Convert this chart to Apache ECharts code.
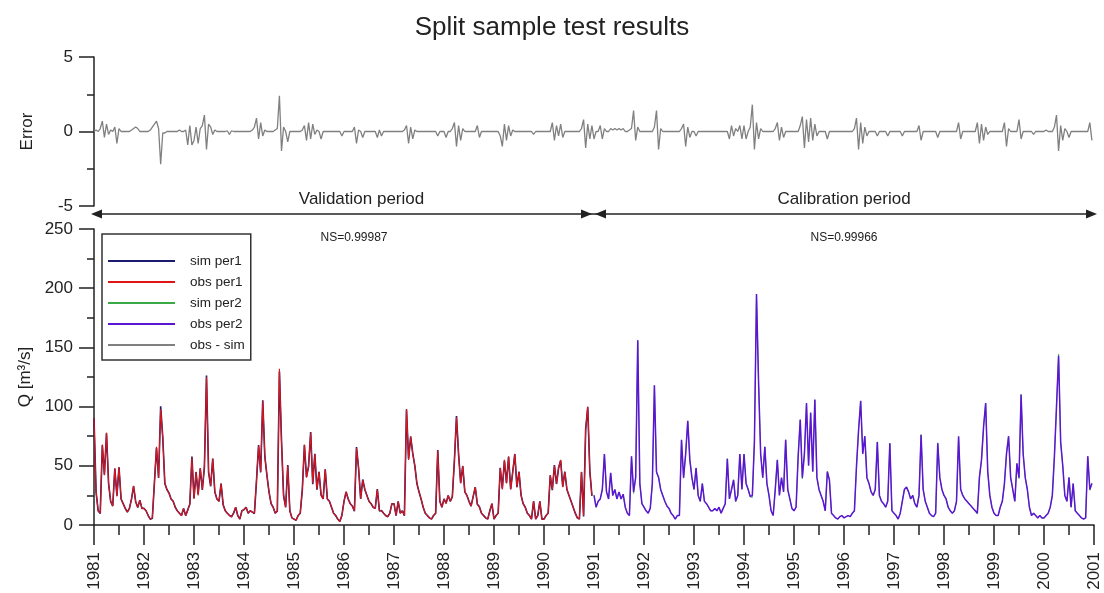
<!DOCTYPE html>
<html><head><meta charset="utf-8">
<script src="https://cdn.jsdelivr.net/npm/echarts@6/dist/echarts.min.js"></script>
<style>html,body{margin:0;padding:0;background:#fff}#c{width:1104px;height:593px}</style>
</head><body><div id="c"></div>
<script>
// ---- data (24 samples per year) ----
const startYear = 1981;
const stepsPerYear = 24;
const yearTicks = [1981,1982,1983,1984,1985,1986,1987,1988,1989,1990,1991,1992,1993,1994,1995,1996,1997,1998,1999,2000,2001];
const seriesNames = ['sim per1','obs per1','sim per2','obs per2','obs - sim'];

// observed discharge, period 1 (1981-1990)
const qObsPer1 = [
  90,28,12,10,68,42,78,35,20,16,48,24,49,22,18,14,11,14,22,33,20,15,21,14,
  14,12,8,5,6,36,66,40,98,74,35,30,27,22,20,15,12,10,8,14,8,12,18,57,
  22,45,25,48,30,50,125,45,33,56,28,22,20,35,17,12,10,8,7,10,15,8,5,12,
  13,15,10,12,11,10,38,67,45,105,58,42,28,18,15,10,12,132,70,25,15,50,12,6,
  5,4,8,10,30,68,40,50,78,35,60,30,45,25,22,47,22,20,15,10,8,5,3,8,
  20,28,22,18,16,12,65,48,22,38,30,25,20,18,15,14,30,12,12,10,8,7,10,18,
  18,8,20,10,12,8,98,55,75,60,50,35,28,22,15,10,8,6,5,8,10,63,20,15,
  22,18,25,20,24,55,91,60,35,50,28,25,20,16,24,32,18,15,10,8,6,5,12,18,
  5,8,10,48,30,55,35,58,30,45,60,32,45,25,18,15,10,8,5,20,5,8,20,5,
  5,8,10,42,30,50,35,48,55,32,45,30,25,20,15,10,6,5,45,8,80,100,45,25
];
// observed discharge, period 2 (1991-2000)
const qObsPer2 = [
  25,15,20,22,30,60,28,22,44,25,30,22,28,22,26,15,10,8,58,28,40,156,35,18,
  15,12,10,14,35,118,45,40,30,25,20,16,14,10,8,5,8,8,72,40,60,88,55,40,
  30,48,25,20,35,20,18,15,12,12,14,12,15,10,14,18,56,22,30,38,20,25,60,30,
  60,35,30,24,25,70,195,120,60,40,66,35,25,12,8,30,55,25,40,28,72,30,22,14,
  12,15,58,89,40,60,103,50,95,45,106,40,30,25,20,12,45,38,10,8,6,5,7,8,
  6,7,8,7,10,12,50,80,105,60,75,40,35,28,25,30,70,25,20,18,15,20,69,12,
  10,8,5,10,20,30,32,28,22,25,18,15,25,76,30,20,15,10,8,7,10,69,40,30,
  25,22,15,12,10,12,20,75,30,25,22,20,18,16,14,12,10,40,55,83,103,45,25,15,
  10,8,8,15,20,35,60,75,40,30,20,52,40,110,60,40,30,15,8,10,8,6,8,6,
  6,8,10,15,25,58,100,143,70,50,25,20,40,15,35,12,10,8,6,5,6,58,30,35
];
// error obs - sim, 1981-2000
const errObsSim = [
  0,0.1,0,0.2,0.7,-0.4,0.5,-0.2,0.1,0,0.3,-0.8,0.2,0,0,0,0,0,0.1,0.2,0.3,0.2,0,0,
  0,0,0,0.1,0.3,0.5,0.7,0.2,-2.2,-0.1,-0.1,0,0,0,0,0,0,0.1,0,0,0.1,-0.9,0.4,-0.9,
  -0.6,0.3,-0.8,0.2,0.4,1.1,-1.2,0.5,0.3,-0.2,0.1,0,0,0,0,0,0.05,-0.2,0.05,0,0,0,0,0,
  0,0,0,0,0.1,0.3,0.9,-0.5,0.6,-0.3,0.1,0,0,0,0,0.1,0.2,2.4,-1.3,0.3,0,-0.7,0,0,
  0,0,0,0,0.1,0.4,-0.6,0.6,-0.5,0.5,-0.2,0.1,0,-0.5,0,0,0,0,0,0,0,0,0,-0.3,
  0,0,0,0,0,0.3,-0.8,0.1,0,-0.4,0,0,0,0,0,0,-0.4,0.1,-0.3,0,0,0,0,0,
  0,0,0,0,0,0.1,0.4,-0.8,0.3,-0.5,0.1,0,0,0,0,0,0,0,0,0,0,-0.3,0,0,
  0,-0.4,0,0,0.2,0.6,-1.0,0.4,-0.6,0.2,0,0,0,0,0,0,0.4,-0.4,0,0,0,0,0,0,
  0,0,0,-0.3,-1.0,0.5,-0.6,0.4,-0.3,0.1,0,0,0,0,0,0,0,0,0,-0.2,0,0,0,0,
  0,0,0,0,0.6,-0.6,0.4,-0.3,0.5,-0.4,0,0,0,0,0,0,0,0,0.2,0.8,-1.1,0.5,-0.5,0.4,
  -0.5,0,0,0.4,-0.5,0.2,0,0,0.2,0.1,0.2,0.1,0.2,0.1,0.2,0,0,0.1,0.2,1.4,-0.6,0.3,0,0,
  0,0,0,0,0,0.3,1.4,-1.2,0.2,0,0,0,0,0,0,0,0,0,0.2,0.5,-1.0,0.3,-0.4,0,
  0,-0.3,0,0,0,0,0,0,0,0,0,0,0,0,0,0,0,-0.5,0.4,-0.3,0.2,0,0.4,-0.5,
  0.4,-0.5,0,0.3,1.8,-1.2,0.6,-0.5,0.2,0,0,0,0,0,0,0.2,0.6,-0.6,0.3,-0.4,0,0,0,0,
  0,0,0,0.4,1.0,-1.1,0.8,-0.7,0.9,-0.6,0.5,-0.3,0,0,0,0,-0.5,0,0,0,0,0,0,0,
  0,0,0,0,0,0.2,0.9,-1.2,0.6,-0.8,0.3,-0.3,0,0,0,0,-0.3,0,0,0,0,-0.3,0,0,
  0,0,0,0,-0.3,0,0,0,0,0,0,0,0.4,-0.6,0,0,0,0,0,0,0,-0.4,0,0,
  0,0,0,0,0,0,0,0.6,-0.5,0,0,0,0,0,0,0,0.6,-0.8,0.5,-0.6,0.3,-0.2,0,0,
  0,0,0,0,0,0.6,-1.0,0.2,0,0,0,0,0.8,-0.5,0,0,0,0,0,-0.2,0,0,0,0,
  0,0.1,0,0,0,0.3,1.1,-1.3,0.4,-0.6,0.2,0,-0.4,0,0,0,0,0,0,0,0,0,0.6,-0.6
];
const periodLabels = ['Validation period','Calibration period'];
const nsLabels = ['NS=0.99987','NS=0.99966'];

// ---- build ----
const tAt = i => startYear + i / stepsPerYear;
const off2 = qObsPer1.length;
const obs1 = qObsPer1.map((v,i)=>[tAt(i), v]);
const sim1 = qObsPer1.map((v,i)=>[tAt(i), v - errObsSim[i]]);
const obs2 = qObsPer2.map((v,i)=>[tAt(off2+i), v]);
const sim2 = qObsPer2.map((v,i)=>[tAt(off2+i), v - errObsSim[off2+i]]);
const err = errObsSim.map((v,i)=>[tAt(i), v]);

const FONT = "'Liberation Sans', Arial, sans-serif";
const INK = '#222';
const chart = echarts.init(document.getElementById('c'));
const axisCommon = {
  axisLine:{show:true, lineStyle:{color:INK, width:1.5}},
  axisTick:{show:true, lineStyle:{color:INK, width:1.5}},
  minorTick:{show:true, lineStyle:{color:INK, width:1.5}},
  splitLine:{show:false},
  axisLabel:{color:INK, fontSize:17, fontFamily:FONT}
};
chart.setOption({
  animation:false,
  backgroundColor:'#fff',
  title:{text:'Split sample test results', left:'center', top:10,
    textStyle:{fontSize:26, fontWeight:'normal', color:INK, fontFamily:FONT}},
  legend:{
    data:seriesNames, orient:'vertical', left:102, top:234,
    borderColor:'#333', borderWidth:1.5, padding:[19,6,7,6],
    itemWidth:67, itemHeight:2, itemGap:5, icon:'rect',
    textStyle:{fontSize:13.5, lineHeight:16, color:INK, fontFamily:FONT, padding:[0,0,0,10]}
  },
  grid:[
    {left:94, top:57, width:1000, height:149},
    {left:94, top:229, width:1000, height:296}
  ],
  xAxis:[
    {gridIndex:0, type:'value', min:yearTicks[0], max:yearTicks[yearTicks.length-1], interval:1, show:false},
    Object.assign({}, axisCommon, {gridIndex:1, type:'value', min:yearTicks[0], max:yearTicks[yearTicks.length-1], interval:1,
      axisTick:{show:true, length:20, lineStyle:{color:INK, width:1.5}},
      minorTick:{show:true, splitNumber:2, length:10, lineStyle:{color:INK, width:1.5}},
      axisLabel:{rotate:90, margin:27, fontSize:17, color:INK, fontFamily:FONT, formatter:v=>String(v)}})
  ],
  yAxis:[
    Object.assign({}, axisCommon, {gridIndex:0, type:'value', min:-5, max:5, interval:5,
      axisTick:{show:true, length:15, lineStyle:{color:INK, width:1.5}},
      minorTick:{show:true, splitNumber:2, length:7, lineStyle:{color:INK, width:1.5}},
      axisLabel:{margin:21, fontSize:17, color:INK, fontFamily:FONT},
      name:'Error', nameLocation:'middle', nameGap:58,
      nameTextStyle:{fontSize:17, color:INK, fontFamily:FONT}}),
    Object.assign({}, axisCommon, {gridIndex:1, type:'value', min:0, max:250, interval:50,
      axisTick:{show:true, length:15, lineStyle:{color:INK, width:1.5}},
      minorTick:{show:true, splitNumber:2, length:7, lineStyle:{color:INK, width:1.5}},
      axisLabel:{margin:21, fontSize:17, color:INK, fontFamily:FONT},
      name:'Q [m³/s]', nameLocation:'middle', nameGap:58,
      nameTextStyle:{fontSize:17, color:INK, fontFamily:FONT}})
  ],
  series:[
    {name:seriesNames[0], type:'line', xAxisIndex:1, yAxisIndex:1, data:sim1, showSymbol:false, color:'#1b1b70', lineStyle:{width:1.6}},
    {name:seriesNames[1], type:'line', xAxisIndex:1, yAxisIndex:1, data:obs1, showSymbol:false, color:'#e01414', lineStyle:{width:1.1}},
    {name:seriesNames[2], type:'line', xAxisIndex:1, yAxisIndex:1, data:sim2, showSymbol:false, color:'#3aa845', lineStyle:{width:0.8}},
    {name:seriesNames[3], type:'line', xAxisIndex:1, yAxisIndex:1, data:obs2, showSymbol:false, color:'#5a16d2', lineStyle:{width:1.5}},
    {name:seriesNames[4], type:'line', xAxisIndex:0, yAxisIndex:0, data:err, showSymbol:false, color:'#808080', lineStyle:{width:1.3}}
  ]
});

// period arrows & labels, positioned through the axes
const px = v => chart.convertToPixel({xAxisIndex:1}, v);
const yTopBottom = chart.convertToPixel({yAxisIndex:0}, -5);
const ay = yTopBottom + 8;
const xl = px(yearTicks[0]), xm = px(1991), xr = px(yearTicks[yearTicks.length-1]);
const head = (tip, dir) => ({type:'polygon', shape:{points:[[tip,ay],[tip-dir*11,ay-4.5],[tip-dir*11,ay+4.5]]}, style:{fill:INK}});
chart.setOption({graphic:[
  {type:'line', shape:{x1:xl, y1:ay, x2:xr, y2:ay}, style:{stroke:INK, lineWidth:1.5}},
  head(xl-3,-1), head(xm-2,1), head(xm+1,-1), head(xr+3,1),
  {type:'text', x:px(1986.35), y:ay-15, style:{text:periodLabels[0], fontSize:17, fontFamily:FONT, fill:INK, align:'center', verticalAlign:'middle'}},
  {type:'text', x:px(1996), y:ay-15, style:{text:periodLabels[1], fontSize:17, fontFamily:FONT, fill:INK, align:'center', verticalAlign:'middle'}},
  {type:'text', x:px(1986.2), y:ay+24, style:{text:nsLabels[0], fontSize:12, fontFamily:FONT, fill:INK, align:'center', verticalAlign:'middle'}},
  {type:'text', x:px(1996), y:ay+24, style:{text:nsLabels[1], fontSize:12, fontFamily:FONT, fill:INK, align:'center', verticalAlign:'middle'}}
]});
</script></body></html>
